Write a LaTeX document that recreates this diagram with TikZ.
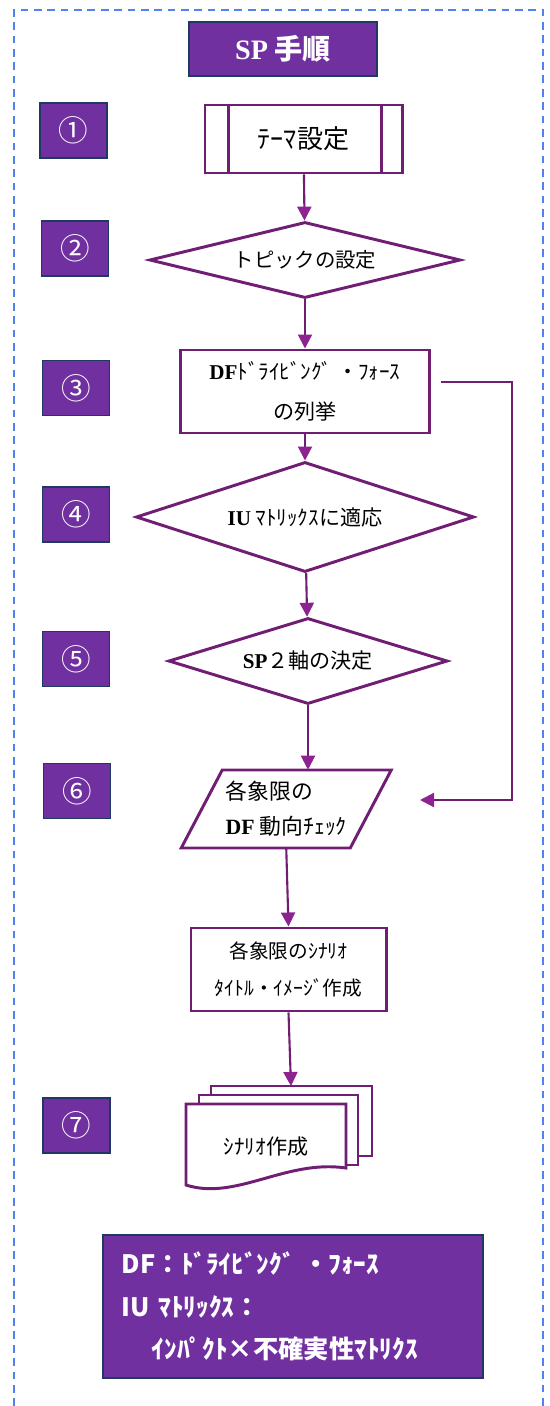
\documentclass[tikz,border=0pt]{standalone}
\usepackage{fontspec}
\setmainfont{Liberation Serif}
\newfontfamily\jp{Noto Sans CJK JP}
\usepackage{xcolor}
\definecolor{purple_sp}{RGB}{112,48,160}
\definecolor{navy_sp}{RGB}{32,56,100}
\definecolor{line_sp}{RGB}{112,30,115}
\definecolor{arrow_sp}{RGB}{140,35,145}
\definecolor{dash_sp}{RGB}{80,130,240}
\newcommand\lat[1]{{\rmfamily\bfseries #1}}
\usepackage{tikz}
\usetikzlibrary{calc,arrows.meta,positioning,shapes.geometric}

\begin{document}
\begin{tikzpicture}
[
	x = 0.025cm, y = -0.025cm,
	every node/.style = {font = \jp},
	purplebox/.style = {draw = navy_sp, line width = 0.8pt, fill = purple_sp, text = white},
	stepno/.style = {purplebox, minimum width = 1.675cm, minimum height = 1.375cm, font = \jp\fontsize{21}{24}\selectfont},
	flowbox/.style = {draw = line_sp, line width = 2.1pt, fill = white, align = center},
	decision/.style = {flowbox, diamond, aspect = 4, inner sep = 0pt},
	flow/.style = {draw = line_sp, line width = 1.5pt, -{Triangle[length = 0.35cm, width = 0.35cm, color = arrow_sp]}}
]
\useasboundingbox (0,0) rectangle (550,1406);
% frame
\draw[dash_sp, line width = 1.4pt, dash pattern = on 5.5pt off 4pt] (14,1406) -- (14,10) -- (543,10) -- (543,1406);

\node[purplebox, minimum width = 4.7cm, minimum height = 1.35cm, font = \jp\bfseries\fontsize{20}{24}\selectfont] (title) at (283,49) {\lat{SP} 手順};

\foreach \num/\x/\y [count=\i] in {①/73.5/130.5, ②/75/248.5, ③/76/388, ④/76/514.5, ⑤/76/659, ⑥/77/791, ⑦/76.5/1125.5}
	\node[stepno] (step\i) at (\x,\y) {\num};

% flow
\node[flowbox, minimum width = 4.925cm, minimum height = 1.7cm, font = \jp\fontsize{18.5}{22}\selectfont] (theme) at (303.5,139) {ﾃｰﾏ設定};
\draw[line_sp, line width = 2.1pt] ($(theme.north west)+(25,0)$) -- ($(theme.south west)+(25,0)$);
\draw[line_sp, line width = 2.1pt] ($(theme.north east)+(-22,0)$) -- ($(theme.south east)+(-22,0)$);
\node[decision, minimum width = 7.775cm, minimum height = 1.9cm, font = \jp\fontsize{14.5}{17}\selectfont] (topic) at (305,260) {トピックの設定};
\node[flowbox, minimum width = 6.2cm, minimum height = 2.075cm, font = \jp\fontsize{15}{28}\selectfont] (dflist) at (305,391.5) {\lat{DF}ﾄﾞﾗｲﾋﾞﾝｸﾞ ・ﾌｫｰｽ\\の列挙};
\node[decision, minimum width = 8.45cm, minimum height = 2.75cm, font = \jp\fontsize{15}{18}\selectfont] (iumat) at (305,517) {\lat{IU} ﾏﾄﾘｯｸｽに適応};
\node[decision, minimum width = 6.975cm, minimum height = 2.15cm, font = \jp\fontsize{15}{18}\selectfont] (axes) at (308,661) {\lat{SP}２軸の決定};
\node[minimum width = 4.25cm, minimum height = 1.95cm, align = left, font = \jp\fontsize{15.5}{25}\selectfont] (check) at (286.25,809) {各象限の\\\lat{DF} 動向ﾁｪｯｸ};
\draw[line_sp, line width = 2.1pt] ($(check)+(-64,-39)$) -- ($(check)+(105,-39)$) -- ($(check)+(64,39)$) -- ($(check)+(-105,39)$) -- cycle;
\node[flowbox, minimum width = 4.875cm, minimum height = 2.075cm, font = \jp\fontsize{14}{26}\selectfont] (scen) at (288.5,969.5) {各象限のｼﾅﾘｵ\\ﾀｲﾄﾙ・ｲﾒｰｼﾞ作成};
\draw[line_sp, line width = 2.1pt, fill = white] ($(266,1147)+(-55,-61)$) rectangle ($(266,1147)+(106,9)$);
\draw[line_sp, line width = 2.1pt, fill = white] ($(266,1147)+(-67,-52)$) rectangle ($(266,1147)+(92,18)$);
\node[font = \jp\fontsize{15}{18}\selectfont] (docs) at (266,1147) {\phantom{ｼﾅﾘｵ作成}};
\draw[line_sp, line width = 2.1pt, fill = white] ($(docs)+(-80,-43)$) -- ($(docs)+(80,-43)$) -- ($(docs)+(80,21)$) .. controls ($(docs)+(20,12)$) and ($(docs)+(-30,54)$) .. ($(docs)+(-80,38)$) -- cycle;
\node[font = \jp\fontsize{15}{18}\selectfont] at (docs) {ｼﾅﾘｵ作成};
\coordinate (docstop) at ($(docs)+(25,-61)$);

\draw[flow] (theme) -- (topic);
\draw[flow] (topic) -- (dflist);
\draw[flow] (dflist) -- (iumat);
\draw[flow] (iumat) -- (axes);
\draw[flow] (axes.south) -- (axes.south |- check.north);
\draw[flow] (check.south) -- (scen.north);
\draw[flow] (scen.south) -- (docstop);
% feedback
\coordinate (fbk) at (441,382);
\coordinate (fbkend) at (420,800);
\draw[flow] (fbk) -| ($(fbkend)+(92,0)$) -- (fbkend);

% legend
\node[purplebox, minimum height = 3.575cm, text width = 8.55cm, inner xsep = 0.475cm, align = left, font = \jp\bfseries\fontsize{18}{30}\selectfont] (legend) at (293,1306.5) {DF：ﾄﾞﾗｲﾋﾞﾝｸﾞ ・ﾌｫｰｽ\\IU ﾏﾄﾘｯｸｽ：\\\hspace*{0.75cm}ｲﾝﾊﾟｸﾄ×不確実性ﾏﾄﾘｸｽ};
\end{tikzpicture}
\end{document}
